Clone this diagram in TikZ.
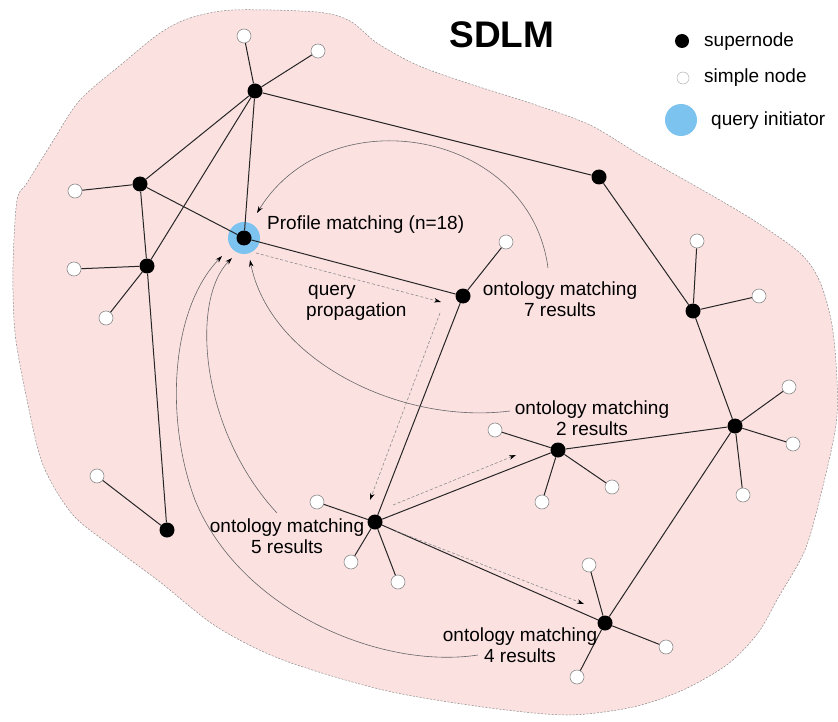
\documentclass[tikz,border=0pt]{standalone}
\usepackage{fontspec}
\setmainfont{Liberation Sans}
\usetikzlibrary{arrows.meta}
\definecolor{blobpink}{RGB}{252,225,225}
\definecolor{qblue}{RGB}{125,195,240}
\tikzset{
  sn/.style={circle, fill=black, minimum size=15pt, inner sep=0pt},
  pn/.style={circle, draw=black!45, fill=white, minimum size=14pt, inner sep=0pt, line width=0.6pt},
  edge/.style={line width=1pt, black!85},
  ret/.style={black!60, line width=0.6pt, -{Stealth[length=7pt,width=4.5pt,black]}},
  prop/.style={dashed, dash pattern=on 3pt off 2pt, black!45, line width=0.6pt, -{Stealth[length=7pt,width=4.5pt,black]}},
  lbl/.style={font=\fontsize{19}{21}\selectfont, inner sep=0pt, align=center},
  blobpath/.style={smooth cycle, tension=0.5},
}
\begin{document}
\begin{tikzpicture}[x=1pt,y=-1pt]
\useasboundingbox (0,0) rectangle (838,722);
% blob
\def\blobpts{(160,33) (190,18) (233,10) (317,12) (350,21) (377,43) (417,65) (467,83) (533,104)
 (590,125) (640,155) (690,183) (750,218) (800,253) (820,282) (832,325) (837,380)
 (836,425) (822,490) (805,550) (778,598) (758,633) (728,664) (683,690) (633,707) (567,715)
 (483,707) (383,690) (283,660) (217,627) (160,582) (117,550) (73,515) (43,465)
 (27,400) (15,333) (13,267) (17,200) (27,183) (53,141) (80,100) (123,63)}
\fill[blobpink] plot[blobpath] coordinates {\blobpts};
\draw[black!45, dash pattern=on 2pt off 1.5pt, line width=0.5pt] plot[blobpath] coordinates {\blobpts};

% initiator ring
\node[circle, fill=qblue, minimum size=32pt, inner sep=0pt] (Iring) at (244,238) {};

% supernodes
\node[sn] (A) at (255,91) {};
\node[sn] (B) at (140,184) {};
\node[sn] (C) at (147,266) {};
\node[sn] (I) at (244,238) {};
\node[sn] (D) at (599,177) {};
\node[sn] (E) at (463,296) {};
\node[sn] (F) at (693,311) {};
\node[sn] (G) at (735,426) {};
\node[sn] (H) at (558,450) {};
\node[sn] (J) at (375,522) {};
\node[sn] (K) at (605,623) {};
\node[sn] (L) at (167,530) {};

% simple nodes
\node[pn] (a1) at (244,36) {};
\node[pn] (a2) at (318,51) {};
\node[pn] (b1) at (75,191) {};
\node[pn] (c1) at (74,269) {};
\node[pn] (c2) at (106,318) {};
\node[pn] (e1) at (506,242) {};
\node[pn] (f1) at (697,241) {};
\node[pn] (f2) at (759,296) {};
\node[pn] (g1) at (789,387) {};
\node[pn] (g2) at (793,444) {};
\node[pn] (g3) at (743,495) {};
\node[pn] (h1) at (495,430) {};
\node[pn] (h2) at (542,502) {};
\node[pn] (h3) at (612,487) {};
\node[pn] (j1) at (317,502) {};
\node[pn] (j2) at (351,562) {};
\node[pn] (j3) at (398,582) {};
\node[pn] (k1) at (589,565) {};
\node[pn] (k2) at (666,647) {};
\node[pn] (k3) at (577,677) {};
\node[pn] (l1) at (97,476) {};

% edges
\foreach \u/\v in {A/a1,A/a2,A/B,A/C,A/I,A/D,B/b1,B/C,B/I,C/c1,C/c2,C/L,L/l1,
  I/E,E/e1,E/J,D/F,F/f1,F/f2,F/G,G/g1,G/g2,G/g3,G/H,G/K,H/h1,H/h2,H/h3,H/J,
  J/j1,J/j2,J/j3,J/K,K/k1,K/k2,K/k3}
  \draw[edge] (\u) -- (\v);

% result return curves
\coordinate (r1s) at (548,268); \coordinate (r1e) at (257,213);
\coordinate (r2s) at (510,411); \coordinate (r2e) at (250,260);
\coordinate (r3s) at (277,513); \coordinate (r3e) at (232,258);
\coordinate (r4s) at (478,655); \coordinate (r4m) at (195,500); \coordinate (r4e) at (222,256);
\draw[ret] (r1s) .. controls (530,130) and (330,95) .. (r1e);
\draw[ret] (r2s) .. controls (400,425) and (270,360) .. (r2e);
\draw[ret] (r3s) .. controls (200,430) and (190,300) .. (r3e);
\draw[ret] (r4s) .. controls (380,670) and (240,610) .. (r4m) .. controls (165,420) and (170,310) .. (r4e);

% query propagation
\coordinate (p1s) at (256,253); \coordinate (p1e) at (441,302);
\coordinate (p2s) at (440,313); \coordinate (p2e) at (370,500);
\coordinate (p3s) at (393,505); \coordinate (p3e) at (516,455);
\coordinate (p4s) at (396,531); \coordinate (p4e) at (584,604);
\draw[prop] (p1s) -- (p1e);
\draw[prop] (p2s) -- (p2e);
\draw[prop] (p3s) -- (p3e);
\draw[prop] (p4s) -- (p4e);

% labels
\node[lbl, anchor=west] (tProf) at (267,225) {Profile matching (n=18)};
\node[lbl, align=left, anchor=west] (tQP) at (306,303) {\hspace*{2pt}query\\propagation};
\node[lbl] (t7) at (560,299) {ontology matching\\7 results};
\node[lbl] (t2) at (592,418) {ontology matching\\2 results};
\node[lbl] (t5) at (287,536) {ontology matching\\5 results};
\node[lbl] (t4) at (520,645) {ontology matching\\4 results};

% title
\node[font=\fontsize{37}{40}\selectfont\bfseries, inner sep=0pt] (title) at (502,35) {SDLM};

% legend
\node[sn, minimum size=14pt] (legSn) at (682,41) {};
\node[circle, draw=black!30, fill=white, minimum size=12pt, inner sep=0pt, line width=0.5pt] (legPn) at (683,78) {};
\node[circle, fill=qblue, minimum size=32pt, inner sep=0pt] (legQi) at (681,120) {};
\node[lbl, anchor=west] (tSn) at (704,42) {supernode};
\node[lbl, anchor=west] (tPn) at (704,78) {simple node};
\node[lbl, anchor=west] (tQi) at (711,121) {query initiator};
\end{tikzpicture}
\end{document}
